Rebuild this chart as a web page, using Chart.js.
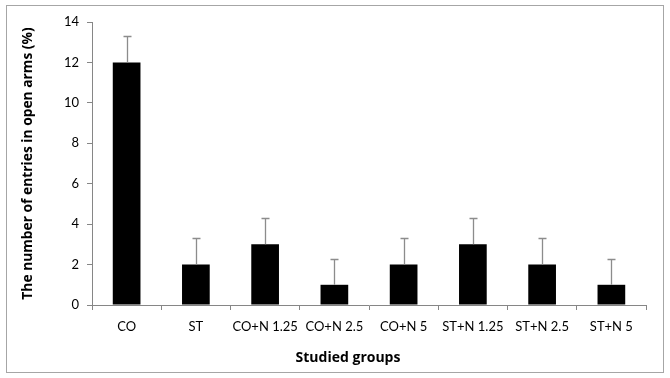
<!DOCTYPE html>
<html>
<head>
<meta charset="utf-8">
<script src="https://cdn.jsdelivr.net/npm/chart.js@4/dist/chart.umd.min.js"></script>
<style>
html,body{margin:0;padding:0;background:#fff;}
#wrap{position:absolute;left:0;top:0;width:670px;height:378px;}
#frame{position:absolute;left:6px;top:5px;width:656px;height:366px;border:1px solid #a6a6a6;pointer-events:none;}
</style>
</head>
<body>
<div id="wrap"><canvas id="c" width="670" height="378"></canvas></div>
<div id="frame"></div>
<script>
const categories = ["CO","ST","CO+N 1.25","CO+N 2.5","CO+N 5","ST+N 1.25","ST+N 2.5","ST+N 5"];
const values = [12,2,3,1,2,3,2,1];
const errors = [1.3,1.3,1.3,1.3,1.3,1.3,1.3,1.3];
const yTicks = [0,2,4,6,8,10,12,14];
const xTitle = 'Studied groups';
const yTitle = 'The number of entries in open arms (%)';

const errorBars = {
  id:'errorBars',
  afterDatasetsDraw(chart){
    const ctx = chart.ctx;
    const meta = chart.getDatasetMeta(0);
    const y = chart.scales.y;
    ctx.save();
    ctx.strokeStyle = '#8c8c8c';
    ctx.lineWidth = 1.3;
    meta.data.forEach((bar,i)=>{
      const x = Math.round(bar.x)+0.5;
      const y0 = y.getPixelForValue(values[i]);
      const y1 = Math.round(y.getPixelForValue(values[i]+errors[i]))+0.5;
      ctx.beginPath();
      ctx.moveTo(x,y0);
      ctx.lineTo(x,y1);
      ctx.moveTo(x-4,y1);
      ctx.lineTo(x+4,y1);
      ctx.stroke();
    });
    ctx.restore();
  }
};

const xTitlePlugin = {
  id:'xTitlePlugin',
  afterDraw(chart){
    const ctx = chart.ctx, a = chart.chartArea;
    ctx.save();
    ctx.fillStyle = '#000';
    ctx.font = 'bold 14px "Open Sans"';
    ctx.textAlign = 'center';
    ctx.textBaseline = 'middle';
    ctx.fillText(xTitle, (a.left+a.right)/2 - 21, a.bottom + 53);
    ctx.restore();
  }
};

new Chart(document.getElementById('c'),{
  type:'bar',
  data:{labels:categories,datasets:[{data:values,backgroundColor:'#000',borderWidth:0,categoryPercentage:1,barPercentage:0.4}]},
  options:{
    responsive:false,animation:false,
    layout:{padding:{left:14,right:24,top:22,bottom:10}},
    plugins:{legend:{display:false},tooltip:{enabled:false}},
    scales:{
      x:{
        offset:true,
        grid:{display:true,drawOnChartArea:false,drawTicks:true,tickLength:5,offset:true,color:'#868686'},
        border:{display:true,color:'#868686',width:1},
        ticks:{color:'#000',font:{family:'Lato',size:13},padding:9,maxRotation:0,autoSkip:false},
        afterFit(s){s.height=63;}
      },
      y:{
        min:0,max:14,
        afterBuildTicks(s){s.ticks=yTicks.map(v=>({value:v}));},
        grid:{display:true,drawOnChartArea:false,drawTicks:true,tickLength:5,color:'#868686'},
        border:{display:true,color:'#868686',width:1},
        ticks:{color:'#000',font:{family:'Lato',size:13},padding:8},
        title:{display:true,text:yTitle,color:'#000',font:{family:'Open Sans',size:13.8,weight:'bold'},padding:{top:6,bottom:4}},
        afterFit(s){s.width=78;}
      }
    }
  },
  plugins:[errorBars,xTitlePlugin]
});
</script>
</body>
</html>
